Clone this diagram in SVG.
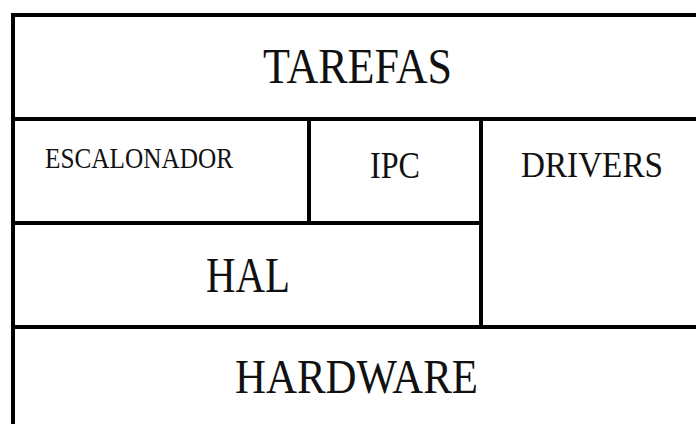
<svg xmlns="http://www.w3.org/2000/svg" width="696" height="424" viewBox="0 0 696 424">
  <style>
    .rule { stroke: #000; stroke-width: 4; fill: none; stroke-linecap: square; }
    .lbl { font-family: "Liberation Serif", "Times New Roman", serif; fill: #111; }
  </style>
  <rect width="696" height="424" fill="#fff"/>

  <!-- layer boundaries -->
  <g id="connectors">
    <line class="rule" x1="13" y1="15" x2="698" y2="15"/>
    <line class="rule" x1="13" y1="15" x2="13" y2="426"/>
    <line class="rule" x1="13" y1="119" x2="698" y2="119"/>
    <line class="rule" x1="13" y1="223" x2="481" y2="223"/>
    <line class="rule" x1="13" y1="327" x2="698" y2="327"/>
    <line class="rule" x1="309" y1="119" x2="309" y2="223"/>
    <line class="rule" x1="481" y1="119" x2="481" y2="327"/>
  </g>

  <g id="tarefas">
    <text class="lbl" x="263" y="83" font-size="50" textLength="189" lengthAdjust="spacingAndGlyphs">TAREFAS</text>
  </g>
  <g id="escalonador">
    <text class="lbl" x="45" y="168" font-size="30" textLength="188" lengthAdjust="spacingAndGlyphs">ESCALONADOR</text>
  </g>
  <g id="ipc">
    <text class="lbl" x="370" y="178" font-size="37" textLength="50" lengthAdjust="spacingAndGlyphs">IPC</text>
  </g>
  <g id="drivers">
    <text class="lbl" x="521" y="177" font-size="36" textLength="142" lengthAdjust="spacingAndGlyphs">DRIVERS</text>
  </g>
  <g id="hal">
    <text class="lbl" x="206" y="292" font-size="50" textLength="84" lengthAdjust="spacingAndGlyphs">HAL</text>
  </g>
  <g id="hardware">
    <text class="lbl" x="235" y="393" font-size="48" textLength="243" lengthAdjust="spacingAndGlyphs">HARDWARE</text>
  </g>
</svg>
